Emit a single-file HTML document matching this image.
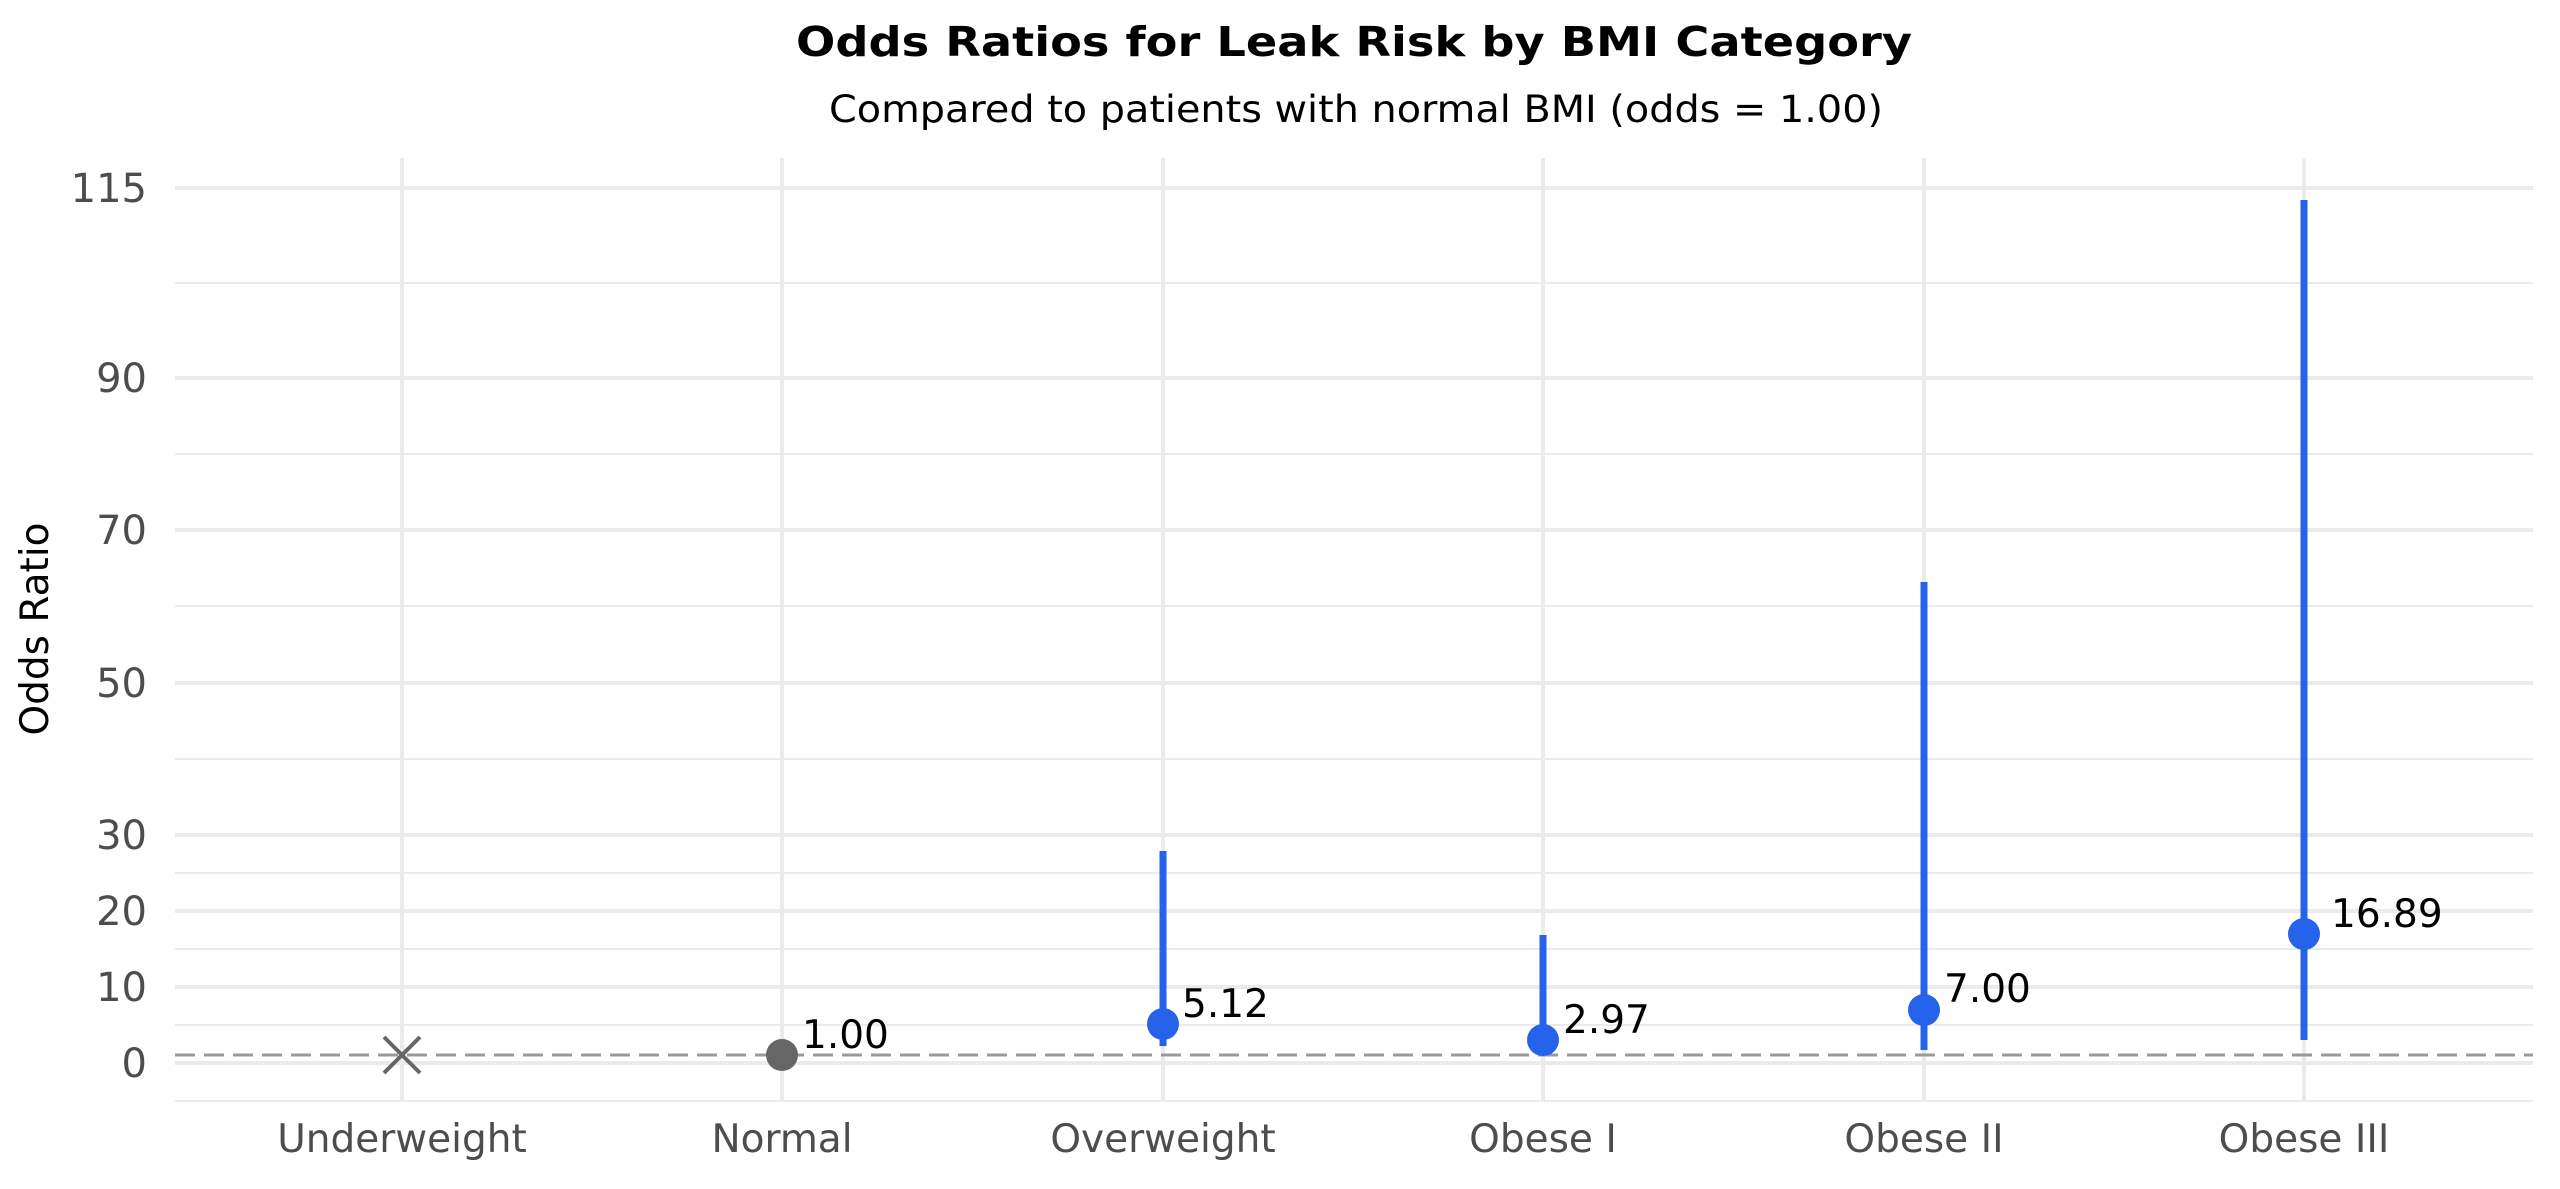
<!DOCTYPE html>
<html><head><meta charset="utf-8"><style>html,body{margin:0;padding:0;background:#fff}svg{display:block}</style></head>
<body>
<svg width="2560" height="1189" viewBox="0 0 2560 1189" xmlns="http://www.w3.org/2000/svg" font-family="DejaVu Sans, Liberation Sans, sans-serif">
<rect width="2560" height="1189" fill="#fff"/>
<g stroke="#ebebeb" stroke-width="2">
<line x1="175" x2="2533" y1="283" y2="283"/><line x1="175" x2="2533" y1="454" y2="454"/>
<line x1="175" x2="2533" y1="606" y2="606"/><line x1="175" x2="2533" y1="759" y2="759"/>
<line x1="175" x2="2533" y1="873" y2="873"/><line x1="175" x2="2533" y1="949" y2="949"/>
<line x1="175" x2="2533" y1="1025" y2="1025"/><line x1="175" x2="2533" y1="1101" y2="1101"/>
</g>
<g stroke="#ebebeb" stroke-width="4">
<line x1="175" x2="2533" y1="188" y2="188"/><line x1="175" x2="2533" y1="378" y2="378"/>
<line x1="175" x2="2533" y1="530" y2="530"/><line x1="175" x2="2533" y1="683" y2="683"/>
<line x1="175" x2="2533" y1="835" y2="835"/><line x1="175" x2="2533" y1="911" y2="911"/>
<line x1="175" x2="2533" y1="987" y2="987"/><line x1="175" x2="2533" y1="1063" y2="1063"/>
<line x1="402" x2="402" y1="158" y2="1101"/><line x1="782" x2="782" y1="158" y2="1101"/>
<line x1="1163" x2="1163" y1="158" y2="1101"/><line x1="1543" x2="1543" y1="158" y2="1101"/>
<line x1="1924" x2="1924" y1="158" y2="1101"/><line x1="2304" x2="2304" y1="158" y2="1101"/>
</g>
<line x1="175" x2="2533" y1="1055" y2="1055" stroke="#999" stroke-width="3" stroke-dasharray="20,9"/>
<g fill="#4d4d4d" font-size="40" text-anchor="end">
<text x="147" y="202">115</text><text x="147" y="392">90</text><text x="147" y="544">70</text>
<text x="147" y="697">50</text><text x="147" y="849">30</text><text x="147" y="925">20</text>
<text x="147" y="1001">10</text><text x="147" y="1077">0</text>
</g>
<g fill="#4d4d4d" font-size="39" text-anchor="middle">
<text x="402" y="1152">Underweight</text><text x="782" y="1152">Normal</text>
<text x="1163" y="1152">Overweight</text><text x="1543" y="1152">Obese I</text>
<text x="1924" y="1152">Obese II</text><text x="2304" y="1152">Obese III</text>
</g>
<text transform="translate(48,629) rotate(-90)" font-size="39" text-anchor="middle" fill="#000">Odds Ratio</text>
<text x="1354" y="56" font-size="41" font-weight="bold" text-anchor="middle" textLength="1116" lengthAdjust="spacingAndGlyphs">Odds Ratios for Leak Risk by BMI Category</text>
<text x="1356" y="122" font-size="37" text-anchor="middle" textLength="1054" lengthAdjust="spacingAndGlyphs">Compared to patients with normal BMI (odds = 1.00)</text>
<g stroke="#666" stroke-width="4"><line x1="384" y1="1037" x2="420" y2="1073"/><line x1="420" y1="1037" x2="384" y2="1073"/></g>
<circle cx="782" cy="1055" r="16" fill="#666"/>
<g stroke="#2563eb" stroke-width="7">
<line x1="1163" x2="1163" y1="851" y2="1046"/>
<line x1="1543" x2="1543" y1="935" y2="1052"/>
<line x1="1924" x2="1924" y1="582" y2="1050"/>
<line x1="2304" x2="2304" y1="200" y2="1040"/>
</g>
<g fill="#2563eb">
<circle cx="1163" cy="1024" r="16"/><circle cx="1543" cy="1040" r="16"/>
<circle cx="1924" cy="1010" r="16"/><circle cx="2304" cy="934" r="16"/>
</g>
<g font-size="39" fill="#000">
<text x="802" y="1048">1.00</text><text x="1182" y="1017">5.12</text>
<text x="1563" y="1033">2.97</text><text x="1944" y="1002">7.00</text>
<text x="2331" y="927">16.89</text>
</g>
</svg>
</body></html>
